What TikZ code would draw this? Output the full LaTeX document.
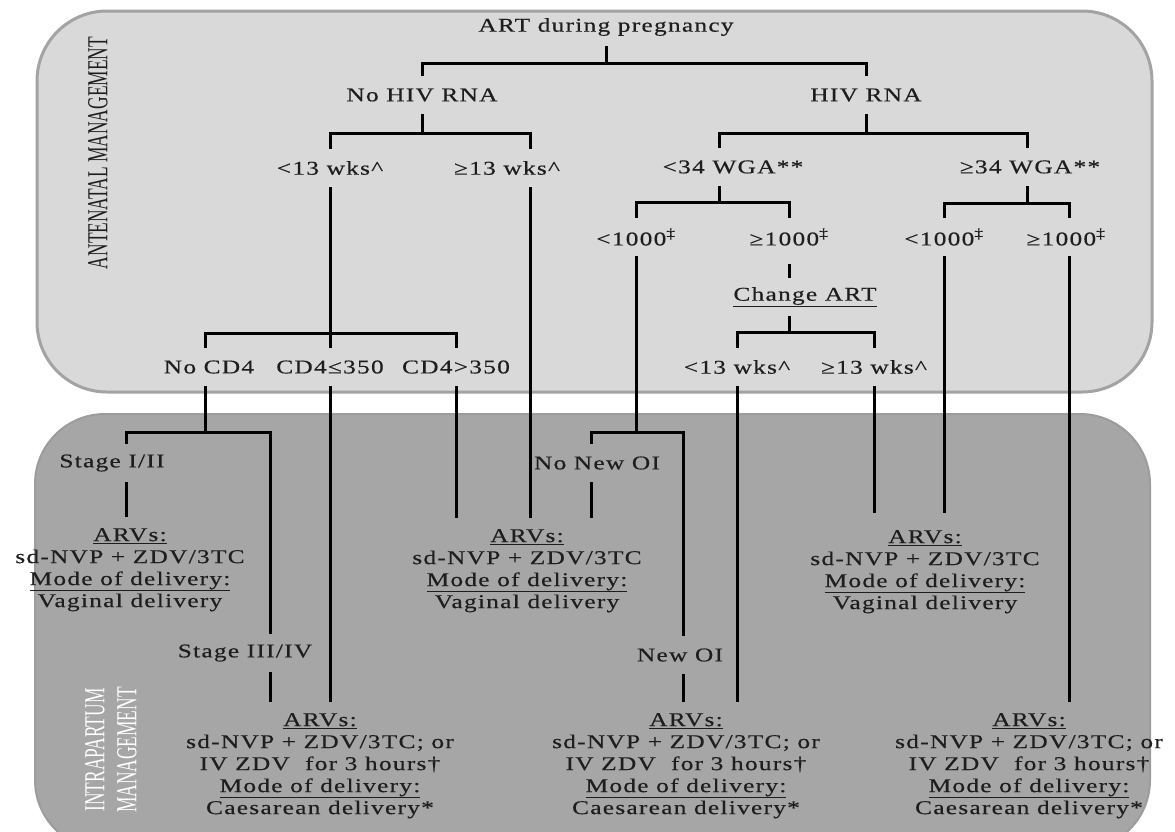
\documentclass[tikz,border=0pt]{standalone}
\usepackage{fontspec}
\setmainfont{Liberation Serif}[FakeStretch=1.3, LetterSpace=6.5, FakeBold=0.4]
\newfontfamily\sidefont{Liberation Serif}
\usepackage{tikz}
\usetikzlibrary{calc}
\definecolor{antebg}{HTML}{D9D9D9}
\definecolor{anteedge}{HTML}{A3A3A3}
\definecolor{intrabg}{HTML}{A6A6A6}
\definecolor{intraedge}{HTML}{9C9C9C}
\definecolor{inktext}{HTML}{1E1E1E}

\begin{document}
\begin{tikzpicture}[x=1pt, y=-1pt,
    lbl/.style={inner sep=0pt, minimum height=38pt, text=inktext,
                font=\fontsize{19.5}{22}\selectfont},
    arv/.style={anchor=north, inner xsep=0pt, inner ysep=11pt, align=center,
                text=inktext, font=\fontsize{19.5}{22}\selectfont},
    link/.style={line width=3pt, black}]

    \useasboundingbox (0,0) rectangle (1175,831);
    \clip (0,0) rectangle (1175,831);

            % Panels
            \draw[anteedge, line width=3pt, fill=antebg, rounded corners=70pt] (37,11) rectangle (1152,392);
            \draw[intraedge, line width=2pt, fill=intrabg, rounded corners=70pt] (35,414) rectangle (1150,850);

            % Panel titles
            \node[rotate=90, text=inktext] (antelbl) at (98,153)
                {\sidefont\fontsize{29}{32}\selectfont\scalebox{0.6}[1]{ANTENATAL MANAGEMENT}};
            \node[rotate=90, text=white] (intralbl) at (114,750)
                {\sidefont\fontsize{29}{32}\selectfont\scalebox{0.6}[1]{\begin{tabular}{@{}c@{}}INTRAPARTUM\\MANAGEMENT\end{tabular}}};

            % Antenatal labels
            \node[lbl] (art) at (606,27) {ART during pregnancy};
            \node[lbl] (nohiv) at (422,95) {No HIV RNA};
            \node[lbl] (hiv) at (866,95) {HIV RNA};
            \node[lbl] (wkA) at (330,168) {<13 wks\textasciicircum};
            \node[lbl] (wkB) at (507,168) {≥13 wks\textasciicircum};
            \node[lbl] (wgaA) at (733,167) {<34 WGA**};
            \node[lbl] (wgaB) at (1030,167) {≥34 WGA**};
            \node[lbl] (vlA) at (636,237) {<1000\textsuperscript{‡}};
            \node[lbl] (vlB) at (789,237) {≥1000\textsuperscript{‡}};
            \node[lbl] (vlC) at (944,237) {<1000\textsuperscript{‡}};
            \node[lbl] (vlD) at (1066,237) {≥1000\textsuperscript{‡}};
            \node[lbl] (chg) at (805,297) {\underline{Change ART}};
            \node[lbl] (wkC) at (737,367) {<13 wks\textasciicircum};
            \node[lbl] (wkD) at (874,367) {≥13 wks\textasciicircum};
            \node[lbl] (nocd) at (209,367) {No CD4};
            \node[lbl] (cdlo) at (330,367) {CD4≤350};
            \node[lbl] (cdhi) at (456,367) {CD4>350};

            % Intrapartum labels
            \node[lbl] (stA) at (112,463) {Stage I/II};
            \node[lbl] (stB) at (245,653) {Stage III/IV};
            \node[lbl] (oiA) at (597,463) {No New OI};
            \node[lbl] (oiB) at (680,655) {New OI};

            % Regimens
            \node[arv] (arvA) at (130,517) {\underline{ARVs:}\\ sd-NVP + ZDV/3TC\\ \underline{Mode of delivery:}\\ Vaginal delivery};
            \node[arv] (arvB) at (527,518) {\underline{ARVs:}\\ sd-NVP + ZDV/3TC\\ \underline{Mode of delivery:}\\ Vaginal delivery};
            \node[arv, inner ysep=17pt] (arvC) at (925,513) {\underline{ARVs:}\\ sd-NVP + ZDV/3TC\\ \underline{Mode of delivery:}\\ Vaginal delivery};
            \node[arv] (arvD) at (320,702) {\underline{ARVs:}\\ sd-NVP + ZDV/3TC; or\\ IV ZDV\ \ for 3 hours†\\ \underline{Mode of delivery:}\\ Caesarean delivery*};
            \node[arv] (arvE) at (686,702) {\underline{ARVs:}\\ sd-NVP + ZDV/3TC; or\\ IV ZDV\ \ for 3 hours†\\ \underline{Mode of delivery:}\\ Caesarean delivery*};
            \node[arv] (arvF) at (1029,702) {\underline{ARVs:}\\ sd-NVP + ZDV/3TC; or\\ IV ZDV\ \ for 3 hours†\\ \underline{Mode of delivery:}\\ Caesarean delivery*};

            % Viral load split
            \draw[link] (art.south) -- ++(0,17) -| (nohiv.north);
            \draw[link] (art.south) -- ++(0,17) -| (hiv.north);

            % No HIV RNA branch
            \draw[link] (nohiv.south) -- ++(0,19) -| (wkA.north);
            \draw[link] (nohiv.south) -- ++(0,19) -| ([xshift=23pt]wkB.north);
            \draw[link] (wkA.south) -- ++(0,146) -| ([xshift=-4pt]nocd.north);
            \draw[link] (wkA.south) -- (cdlo.north);
            \draw[link] (wkA.south) -- ++(0,146) -| (cdhi.north);

            % HIV RNA branch
            \draw[link] (hiv.south) -- ++(0,19) -| ([xshift=-14pt]wgaA.north);
            \draw[link] (hiv.south) -- ++(0,19) -| ([xshift=-3pt]wgaB.north);
            \draw[link] ([xshift=-14pt]wgaA.south) -- ++(0,16) -| (vlA.north);
            \draw[link] ([xshift=-14pt]wgaA.south) -- ++(0,16) -| (vlB.north);
            \draw[link] ([xshift=-3pt]wgaB.south) -- ++(0,17) -| (vlC.north);
            \draw[link] ([xshift=-3pt]wgaB.south) -- ++(0,17) -| ([xshift=3pt]vlD.north);
            \draw[link, shorten <=8pt] (vlB.south) -- ([xshift=-16pt]chg.north);
            \draw[link] ([xshift=-16pt]chg.south) -- ++(0,16) -| (wkC.north);
            \draw[link] ([xshift=-16pt]chg.south) -- ++(0,16) -| (wkD.north);

            % CD4 / stage split
            \draw[link] ([xshift=-4pt]nocd.south) -- ++(0,46) -| ([xshift=14pt]stA.north);
            \draw[link] ([xshift=-4pt]nocd.south) -- ++(0,46) -| ([xshift=25pt]stB.north);

            % Opportunistic infection split
            \draw[link] (vlA.south) -- ++(0,176) -| ([xshift=-6pt]oiA.north);
            \draw[link] (vlA.south) -- ++(0,176) -| ([xshift=3pt]oiB.north);

            % Into the regimens
            \draw[link] ([xshift=14pt]stA.south) -- ([xshift=14pt]stA.south |- arvA.north);
            \draw[link] ([xshift=25pt]stB.south) -- ([xshift=25pt]stB.south |- arvD.north);
            \draw[link] (cdlo.south) -- (cdlo.south |- arvD.north);
            \draw[link] (cdhi.south) -- (cdhi.south |- arvB.north);
            \draw[link] ([xshift=23pt]wkB.south) -- ([xshift=23pt]wkB.south |- arvB.north);
            \draw[link] ([xshift=-6pt]oiA.south) -- ([xshift=-6pt]oiA.south |- arvB.north);
            \draw[link] ([xshift=3pt]oiB.south) -- ([xshift=3pt]oiB.south |- arvE.north);
            \draw[link] (wkC.south) -- (wkC.south |- arvE.north);
            \draw[link] (wkD.south) -- (wkD.south |- arvC.north);
            \draw[link] (vlC.south) -- (vlC.south |- arvC.north);
            \draw[link] ([xshift=3pt]vlD.south) -- ([xshift=3pt]vlD.south |- arvF.north);
        \end{tikzpicture}
\end{document}
